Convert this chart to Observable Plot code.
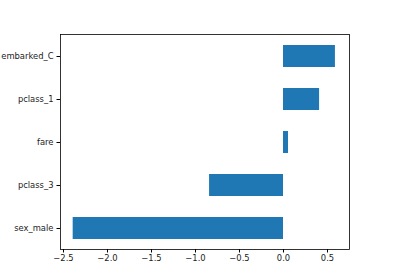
<!DOCTYPE html>
<html><head><meta charset="utf-8">
<script src="https://cdn.jsdelivr.net/npm/d3@7"></script>
<script src="https://cdn.jsdelivr.net/npm/@observablehq/plot@0.6"></script>
<style>body{margin:0;background:#fff;} svg{display:block;}</style>
</head><body><div id="chart"></div>
<script>
const features = ["embarked_C", "pclass_1", "fare", "pclass_3", "sex_male"];
const coefs = [0.59, 0.41, 0.057, -0.84, -2.39];
const xTicks = [-2.5, -2.0, -1.5, -1.0, -0.5, 0.0, 0.5];

const data = features.map((f, i) => ({feature: f, value: coefs[i]}));
const fmt = d => d.toFixed(1).replace("-", "\u2212");

const chart = Plot.plot({
  width: 400, height: 280,
  marginLeft: 60, marginRight: 51, marginTop: 34, marginBottom: 31,
  style: {fontFamily: "DejaVu Sans", fontSize: "8.4px", color: "#000", background: "#fff"},
  x: {domain: [-2.534, 0.75], ticks: xTicks, tickFormat: fmt, label: null},
  y: {domain: features, paddingInner: 0.5, paddingOuter: 0.25, label: null},
  marks: [
    Plot.barX(data, {x: "value", y: "feature", fill: "#1f77b4"}),
    Plot.axisX({ticks: xTicks, tickFormat: fmt, tickSize: 3.5, tickPadding: 2.5, label: null, fill: "#222"}),
    Plot.axisY({tickSize: 3.5, tickPadding: 3.5, label: null, fill: "#222"}),
    Plot.frame({stroke: "#000", strokeWidth: 0.8})
  ]
});
document.getElementById("chart").appendChild(chart);
</script></body></html>
